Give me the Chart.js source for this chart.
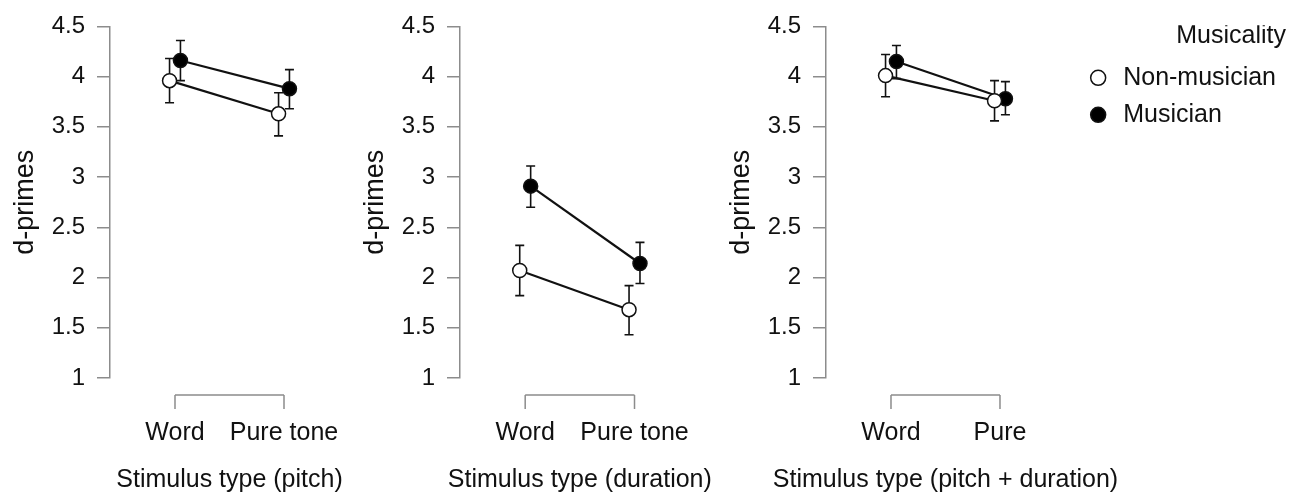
<!DOCTYPE html>
<html>
<head>
<meta charset="utf-8">
<script src="https://cdn.jsdelivr.net/npm/chart.js@4.4.1/dist/chart.umd.min.js"></script>
<style>
  html, body { margin: 0; padding: 0; background: #fff; }
  #wrap { position: relative; width: 1290px; height: 497px; }
  .panel { position: absolute; top: 0; height: 497px; }
</style>
</head>
<body>
<div id="wrap">
  <div class="panel" style="left:0;width:360px"><canvas id="c-pitch"></canvas></div>
  <div class="panel" style="left:350px;width:380px"><canvas id="c-duration"></canvas></div>
  <div class="panel" style="left:716px;width:574px"><canvas id="c-both"></canvas></div>
</div>
<script>
"use strict";

// y axis ticks (shared)
const yTickValues = [1, 1.5, 2, 2.5, 3, 3.5, 4, 4.5];

// pitch
const pitchCategories      = ["Word", "Pure tone"];
const pitchNonMusician     = [3.96, 3.63];
const pitchNonMusicianLow  = [3.74, 3.41];
const pitchNonMusicianHigh = [4.18, 3.84];
const pitchMusician        = [4.16, 3.88];
const pitchMusicianLow     = [3.96, 3.68];
const pitchMusicianHigh    = [4.36, 4.07];

// duration
const durationCategories      = ["Word", "Pure tone"];
const durationNonMusician     = [2.07, 1.68];
const durationNonMusicianLow  = [1.82, 1.43];
const durationNonMusicianHigh = [2.32, 1.92];
const durationMusician        = [2.91, 2.14];
const durationMusicianLow     = [2.70, 1.94];
const durationMusicianHigh    = [3.11, 2.35];

// pitch + duration
const bothCategories      = ["Word", "Pure"];
const bothNonMusician     = [4.01, 3.76];
const bothNonMusicianLow  = [3.80, 3.56];
const bothNonMusicianHigh = [4.22, 3.96];
const bothMusician        = [4.15, 3.78];
const bothMusicianLow     = [3.98, 3.62];
const bothMusicianHigh    = [4.31, 3.95];

const GREY  = "#8c8c8c";
const INK   = "#111";
const FONT  = "'Liberation Sans', Arial, sans-serif";
const DODGE = 0.05;
const X_MIN = 0.4037;

function punkter(values, shift) {
  return values.map((v, i) => ({ x: i + 1 + shift, y: v }));
}

const errorBars = {
  id: "errorBars",
  beforeDatasetsDraw(chart) {
    const { ctx, scales: { x, y } } = chart;
    ctx.save();
    ctx.strokeStyle = INK;
    ctx.lineWidth = 1.6;
    chart.data.datasets.forEach(ds => {
      ds.data.forEach((p, i) => {
        const px = x.getPixelForValue(p.x);
        const lo = y.getPixelForValue(ds.low[i]);
        const hi = y.getPixelForValue(ds.high[i]);
        ctx.beginPath();
        ctx.moveTo(px, lo);       ctx.lineTo(px, hi);
        ctx.moveTo(px - 4.5, lo); ctx.lineTo(px + 4.5, lo);
        ctx.moveTo(px - 4.5, hi); ctx.lineTo(px + 4.5, hi);
        ctx.stroke();
      });
    });
    ctx.restore();
  }
};

// R style x axis: a bracket from first to last category with ticks pointing down,
// and the axis title centred under the categories (wider than the plot region)
const bracketAxis = {
  id: "bracketAxis",
  afterDraw(chart, args, opts) {
    const { ctx, chartArea, scales: { x } } = chart;
    const pos = x.ticks.map(t => x.getPixelForValue(t.value));
    const top = chartArea.bottom + 17;
    ctx.save();
    ctx.strokeStyle = GREY;
    ctx.lineWidth = 1.5;
    ctx.beginPath();
    ctx.moveTo(pos[0], top);
    ctx.lineTo(pos[pos.length - 1], top);
    pos.forEach(px => { ctx.moveTo(px, top); ctx.lineTo(px, top + 14); });
    ctx.stroke();

    ctx.fillStyle = INK;
    ctx.font = "25px " + FONT;
    ctx.textAlign = "center";
    ctx.textBaseline = "middle";
    ctx.fillText(opts.title, (pos[0] + pos[pos.length - 1]) / 2, chartArea.bottom + 102.5);
    ctx.restore();
  }
};

function lavPanel(id, categories, title, nm, nmLow, nmHigh, mu, muLow, muHigh, xMax, padRight, medLegend) {
  new Chart(document.getElementById(id), {
    type: "line",
    data: {
      datasets: [
        { label: "Non-musician", data: punkter(nm, -DODGE), low: nmLow, high: nmHigh,
          borderColor: INK, borderWidth: 2.2, pointRadius: 7, pointBorderWidth: 1.5,
          pointBorderColor: INK, pointBackgroundColor: "#fff", pointStyle: "circle", tension: 0, fill: false },
        { label: "Musician", data: punkter(mu, DODGE), low: muLow, high: muHigh,
          borderColor: INK, borderWidth: 2.2, pointRadius: 7, pointBorderWidth: 1.5,
          pointBorderColor: INK, pointBackgroundColor: "#000", pointStyle: "circle", tension: 0, fill: false }
      ]
    },
    options: {
      responsive: true,
      maintainAspectRatio: false,
      animation: false,
      events: [],
      layout: { padding: { top: 25.3, right: padRight, bottom: 0, left: 0 } },
      plugins: {
        tooltip: { enabled: false },
        bracketAxis: { title: title },
        legend: medLegend ? {
          display: true, position: "right", align: "start", maxWidth: 300,
          title: { display: true, text: "Musicality", position: "end", color: INK,
                   font: { family: FONT, size: 25 }, padding: { top: -2, bottom: 0 } },
          labels: { usePointStyle: true, pointStyle: "circle", boxWidth: 25, boxHeight: 10.6,
                    padding: 12, color: INK, font: { family: FONT, size: 25 } }
        } : { display: false }
      },
      scales: {
        x: {
          type: "linear", min: X_MIN, max: xMax,
          afterBuildTicks: s => { s.ticks = categories.map((c, i) => ({ value: i + 1 })); },
          afterFit: s => { s.height = 119; s.paddingLeft = 0; s.paddingRight = 0; },
          // invisible tick marks only push the labels down below the bracket
          grid: { display: true, drawOnChartArea: false, drawTicks: true, tickLength: 40, color: "rgba(0,0,0,0)" },
          border: { display: false },
          ticks: { padding: 0, color: INK, autoSkip: false, maxRotation: 0,
                   font: { family: FONT, size: 25 }, callback: v => categories[v - 1] }
        },
        y: {
          min: 1, max: 4.5,
          afterBuildTicks: s => { s.ticks = yTickValues.map(v => ({ value: v })); },
          afterFit: s => { s.width = 110; },
          grid: { drawOnChartArea: false, drawTicks: true, tickLength: 13, color: GREY, lineWidth: 1.5 },
          border: { color: GREY, width: 1.5 },
          ticks: { padding: 12, color: INK, font: { family: FONT, size: 24 }, callback: v => String(v) },
          title: { display: true, text: "d-primes", color: INK, font: { family: FONT, size: 27 },
                   padding: { top: 9, bottom: 0 } }
        }
      }
    },
    plugins: [errorBars, bracketAxis]
  });
}

lavPanel("c-pitch", pitchCategories, "Stimulus type (pitch)",
  pitchNonMusician, pitchNonMusicianLow, pitchNonMusicianHigh,
  pitchMusician, pitchMusicianLow, pitchMusicianHigh, 2.5963, 11, false);

lavPanel("c-duration", durationCategories, "Stimulus type (duration)",
  durationNonMusician, durationNonMusicianLow, durationNonMusicianHigh,
  durationMusician, durationMusicianLow, durationMusicianHigh, 2.5963, 30.3, false);

lavPanel("c-both", bothCategories, "Stimulus type (pitch + duration)",
  bothNonMusician, bothNonMusicianLow, bothNonMusicianHigh,
  bothMusician, bothMusicianLow, bothMusicianHigh, 2.676, 4, true);
</script>
</body>
</html>
